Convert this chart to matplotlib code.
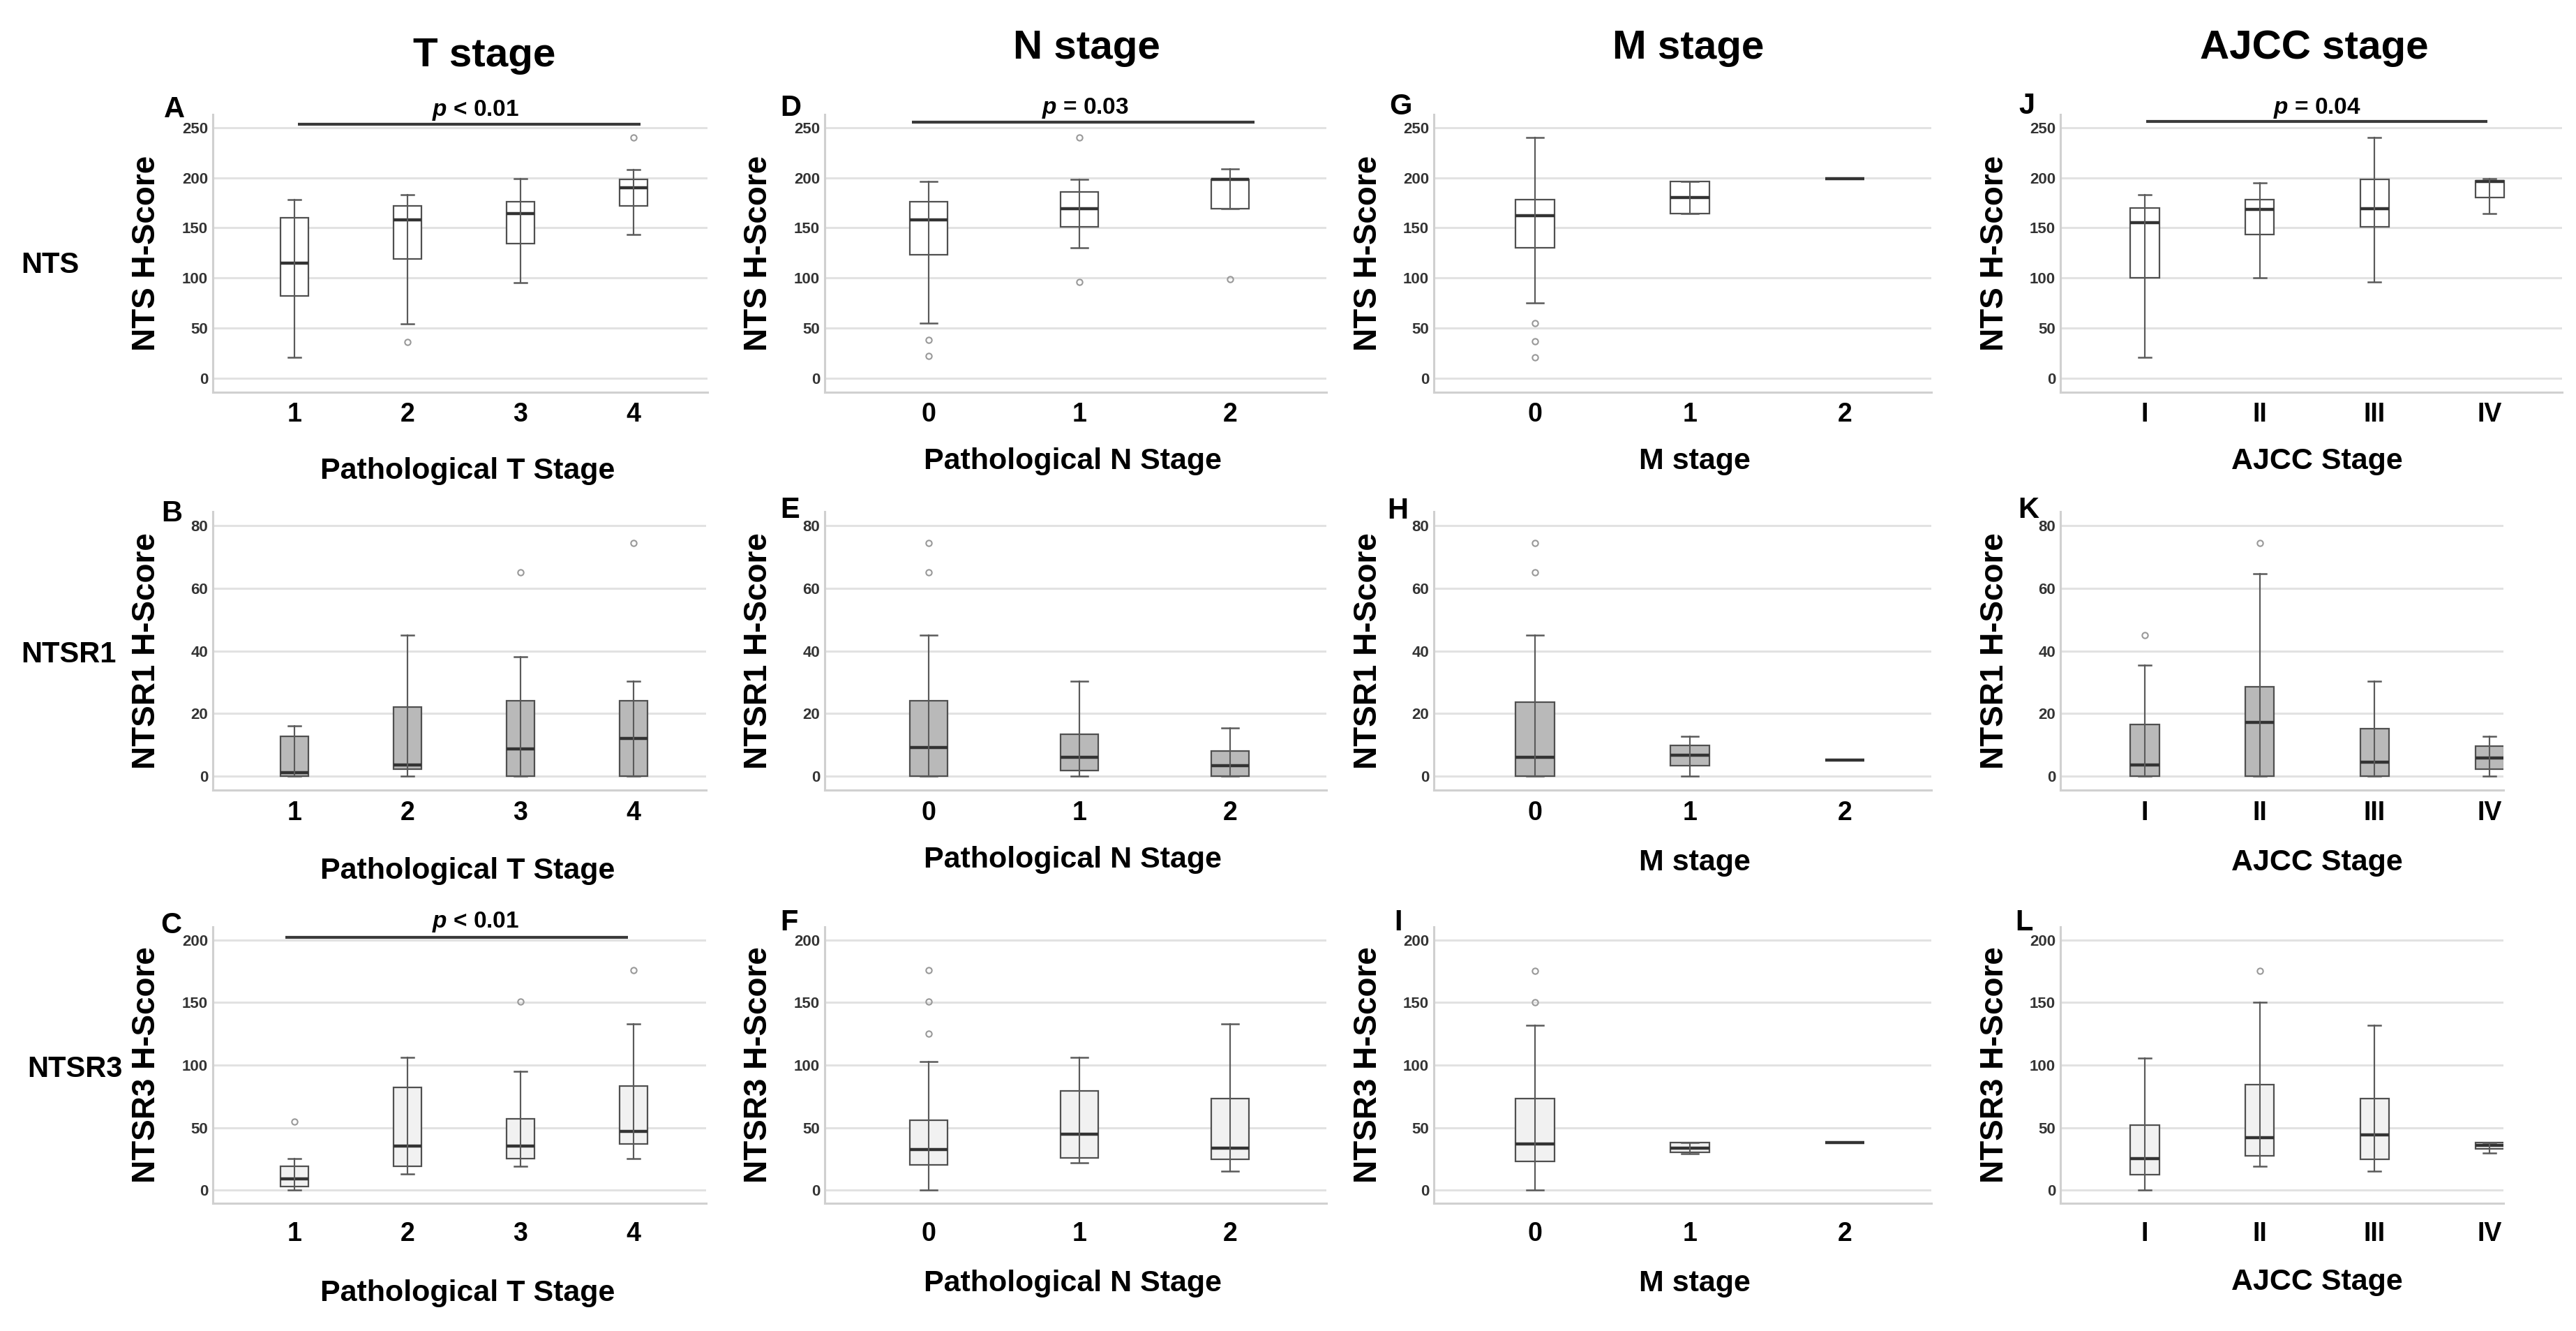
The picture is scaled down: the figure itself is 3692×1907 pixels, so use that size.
import matplotlib.pyplot as plt

W, H = 3692, 1907

COL_TITLES = ["T stage", "N stage", "M stage", "AJCC stage"]
ROW_LABELS = ["NTS", "NTSR1", "NTSR3"]
Y_LABELS = ["NTS H-Score", "NTSR1 H-Score", "NTSR3 H-Score"]
X_LABELS = ["Pathological T Stage", "Pathological N Stage", "M stage", "AJCC Stage"]
CATEGORIES = [["1", "2", "3", "4"], ["0", "1", "2"], ["0", "1", "2"], ["I", "II", "III", "IV"]]
LETTERS = [["A", "D", "G", "J"], ["B", "E", "H", "K"], ["C", "F", "I", "L"]]

# box stats per group: (whisker low, q1, median, q3, whisker high, outliers)
nts_t = [(21, 82, 115, 160, 178, []), (54, 119, 158, 172, 183, [36]),
         (95, 134, 164, 176, 199, []), (143, 172, 190, 198, 208, [240])]
ntsr1_t = [(0, 0, 1, 12.6, 16, []), (0, 2.3, 3.6, 22, 45, []),
           (0, 0, 8.7, 24, 38, [65]), (0, 0, 12, 24, 30.4, [74.5])]
ntsr3_t = [(0, 3, 9, 19, 25, [55]), (13, 19, 35, 82, 106, []),
           (19, 25, 35, 57, 95, [151]), (25, 37, 47, 83, 133, [176])]

nts_n = [(55, 123, 158, 176, 196, [38, 22]), (130, 151, 169, 186, 198, [240, 96]),
         (169, 169, 198, 198, 209, [99])]
ntsr1_n = [(0, 0, 9, 24, 45, [65, 74.5]), (0, 1.7, 6, 13.4, 30.4, []),
           (0, 0, 3.3, 8.1, 15.3, [])]
ntsr3_n = [(0, 20, 32.5, 56, 103, [125, 151, 176]), (22, 26, 45, 79.5, 106, []),
           (15, 24.6, 33.7, 73, 133, [])]

nts_m = [(75, 130, 162, 178, 240, [55, 37, 21]), (164, 164, 180, 196, 196, []),
         (199, 199, 199, 199, 199, [])]
ntsr1_m = [(0, 0, 6, 23.6, 45, [65, 74.5]), (0, 3.2, 6.6, 9.7, 12.7, []),
           (5, 5, 5, 5, 5, [])]
ntsr3_m = [(0, 23, 37, 73, 132, [150.5, 175.5]), (29, 30, 33.6, 38, 38, []),
           (38, 38, 38, 38, 38, [])]

nts_ajcc = [(21, 100, 155, 170, 183, []), (100, 143, 168, 178, 195, []),
            (96, 151, 169, 198, 240, []), (164, 180, 196, 197, 199, [])]
ntsr1_ajcc = [(0, 0, 3.6, 16.4, 35.5, [45]), (0, 0, 17.2, 28.5, 64.7, [74.5]),
              (0, 0, 4.4, 15.2, 30.4, []), (0, 2.3, 5.7, 9.5, 12.7, [])]
ntsr3_ajcc = [(0, 12.6, 25, 52, 105.5, []), (19, 27.3, 42, 84.5, 150.5, [175.5]),
              (15, 24.5, 44, 73, 132, []), (29.6, 33, 36, 38.3, 38.3, [])]

PANELS = [[nts_t, nts_n, nts_m, nts_ajcc],
          [ntsr1_t, ntsr1_n, ntsr1_m, ntsr1_ajcc],
          [ntsr3_t, ntsr3_n, ntsr3_m, ntsr3_ajcc]]

# significance annotations: (row, col) -> (x0, x1, bar y, text x, text y, text)
SIG = {(0, 0): (0.03, 3.06, 253, 1.6, 267, "$\\it{p}$ < 0.01"),
       (0, 1): (-0.11, 2.16, 255, 1.04, 269, "$\\it{p}$ = 0.03"),
       (0, 3): (0.01, 2.98, 256, 1.5, 269, "$\\it{p}$ = 0.04"),
       (2, 0): (-0.08, 2.95, 202, 1.6, 214.5, "$\\it{p}$ < 0.01")}

# layout (pixels)
ROW_YLIM = [(-14, 263), (-4.5, 84.5), (-10.5, 210.5)]
ROW_TICKS = [range(0, 251, 50), range(0, 81, 20), range(0, 201, 50)]
ROW_TOPBOT = [(164, 562), (733, 1132), (1328, 1724)]
ROW_FILL = ["white", "#b9b9b9", "#f1f1f1"]
ROW_TICKPAD = [10, 11, 19]
COL_LEFT = [305, 1182, 2055, 2953]
COL_RIGHT = [[1014, 1901, 2768, 3672], [1012, 1901, 2768, 3588], [1012, 1901, 2768, 3588]]
COL_C0 = [422, 1331, 2200, 3074]
COL_STEP = [162, 216, 222, 164.7]
YLAB_X = [210, 1087, 1961, 2859]
XLAB_X = [670, 1538, 2429, 3321]
XLAB_Y = [[675, 661, 661, 661], [1248, 1232, 1236, 1236], [1853, 1839, 1839, 1837]]
LETTER_XY = [[(250, 157), (1133, 155), (2007, 153), (2905, 152)],
             [(246, 736), (1132, 731), (2003, 732), (2907, 731)],
             [(245, 1326), (1131, 1322), (2004, 1322), (2901, 1322)]]
TITLE_XY = [(694, 80), (1557, 69), (2420, 69), (3317, 69)]
ROWLAB_XY = [(30, 380), (30, 938), (39, 1532)]

plt.rcParams["font.family"] = ["Liberation Sans", "DejaVu Sans"]
plt.rcParams["font.weight"] = "bold"
plt.rcParams["mathtext.fontset"] = "custom"
plt.rcParams["mathtext.it"] = "Liberation Sans:italic:bold"
plt.rcParams["mathtext.rm"] = "Liberation Sans:bold"

fig = plt.figure(figsize=(W / 100, H / 100), dpi=100)
fig.patch.set_facecolor("white")


def fx(x):
    return x / W


def fy(y):
    return 1 - y / H


for r in range(3):
    top, bot = ROW_TOPBOT[r]
    for c in range(4):
        left, right = COL_LEFT[c], COL_RIGHT[r][c]
        ax = fig.add_axes([fx(left), fy(bot), (right - left) / W, (bot - top) / H])
        data = PANELS[r][c]
        n = len(data)
        stats = [dict(whislo=d[0], q1=d[1], med=d[2], q3=d[3], whishi=d[4], fliers=d[5])
                 for d in data]
        pos = list(range(n))
        ax.bxp(stats, positions=pos, widths=0.25, capwidths=0.11, patch_artist=True,
               manage_ticks=False,
               boxprops=dict(facecolor=ROW_FILL[r], edgecolor="#505050", linewidth=1.6),
               medianprops=dict(color="#333333", linewidth=3.2),
               whiskerprops=dict(color="#5a5a5a", linewidth=1.5),
               capprops=dict(color="#5a5a5a", linewidth=1.8),
               flierprops=dict(marker="o", markerfacecolor="none", markeredgecolor="#999999",
                               markersize=6, markeredgewidth=1.5))
        # whisker line runs through the box
        ax.vlines(pos, [d[0] for d in data], [d[4] for d in data],
                  color="#5a5a5a", linewidth=1.5, zorder=2.5)

        c0, step = COL_C0[c], COL_STEP[c]
        ax.set_xlim((left - c0) / step, (right - c0) / step)
        ax.set_ylim(*ROW_YLIM[r])
        ax.set_yticks(list(ROW_TICKS[r]))
        ax.set_xticks(pos)
        ax.set_xticklabels(CATEGORIES[c])
        ax.grid(axis="y", color="#e2e2e2", linewidth=2.2)
        ax.set_axisbelow(True)
        for s in ["top", "right"]:
            ax.spines[s].set_visible(False)
        for s in ["left", "bottom"]:
            ax.spines[s].set_color("#d0d0d0")
            ax.spines[s].set_linewidth(2.2)
        ax.tick_params(axis="y", length=0, pad=5, labelsize=16, labelcolor="#333333")
        ax.tick_params(axis="x", length=0, pad=ROW_TICKPAD[r], labelsize=27)
        for lab in ax.get_yticklabels() + ax.get_xticklabels():
            lab.set_fontweight("bold")

        if (r, c) in SIG:
            x0, x1, yb, tx, ty, txt = SIG[(r, c)]
            ax.plot([x0, x1], [yb, yb], color="#3a3a3a", linewidth=3, clip_on=False,
                    solid_capstyle="butt")
            ax.text(tx, ty, txt, ha="center", va="center", fontsize=24,
                    fontweight="bold", clip_on=False)

        fig.text(fx(YLAB_X[c]), fy((top + bot) / 2), Y_LABELS[r], rotation=90,
                 ha="center", va="center", fontsize=33, fontweight="bold")
        fig.text(fx(XLAB_X[c]), fy(XLAB_Y[r][c]), X_LABELS[c], ha="center", va="center",
                 fontsize=31, fontweight="bold")
        lx, ly = LETTER_XY[r][c]
        fig.text(fx(lx), fy(ly), LETTERS[r][c], ha="center", va="center",
                 fontsize=30, fontweight="bold")

for c in range(4):
    tx, ty = TITLE_XY[c]
    fig.text(fx(tx), fy(ty), COL_TITLES[c], ha="center", va="center",
             fontsize=42, fontweight="bold")

for r in range(3):
    rx, ry = ROWLAB_XY[r]
    fig.text(fx(rx), fy(ry), ROW_LABELS[r], ha="left", va="center",
             fontsize=30, fontweight="bold")

fig.savefig("out.png", dpi=100, facecolor="white")
